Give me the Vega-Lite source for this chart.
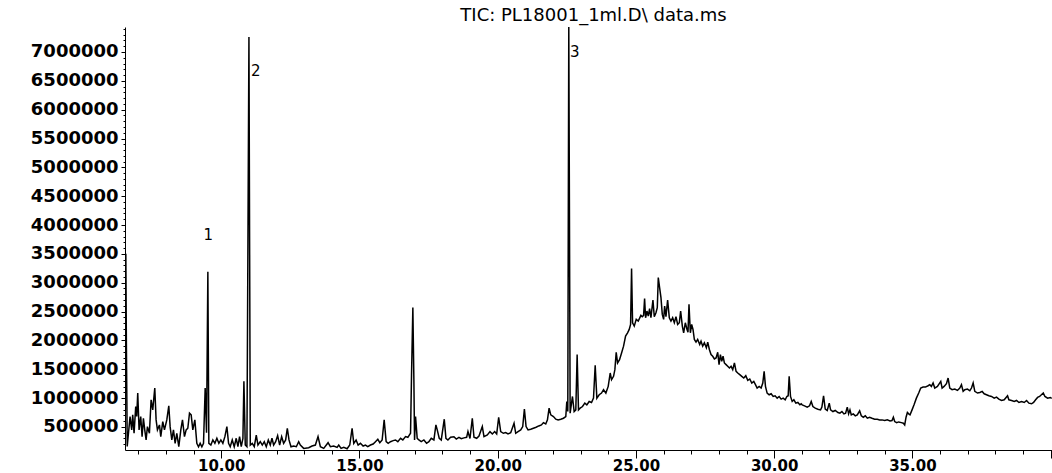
{
  "$schema": "https://vega.github.io/schema/vega-lite/v6.json",
  "autosize": {"type": "none"},
  "padding": {"left": 125, "top": 27, "right": 0, "bottom": 23},
  "width": 927,
  "height": 423,
  "background": "white",
  "title": {"text": "TIC: PL18001_1ml.D\\ data.ms", "font": "DejaVu Sans", "fontSize": 18, "fontWeight": "normal", "color": "black", "anchor": "middle", "frame": "group", "offset": 3, "baseline": "alphabetic", "dx": 5, "dy": 22},
  "config": {"view": {"stroke": null}, "axis": {"grid": false, "domainColor": "black", "tickColor": "black", "labelColor": "black", "labelFont": "DejaVu Sans", "labelFontWeight": "bold", "labelOverlap": false, "labelBound": false, "labelFlush": false, "title": null}},
  "datasets": {
    "tic": [
      {"time": 6.53, "abundance": 3480000}, {"time": 6.55, "abundance": 3500000}, {"time": 6.57, "abundance": 1950000}, {"time": 6.60, "abundance": 160000},
      {"time": 6.703, "abundance": 680000}, {"time": 6.763, "abundance": 448000}, {"time": 6.799, "abundance": 709000}, {"time": 6.848, "abundance": 390000},
      {"time": 6.908, "abundance": 854000}, {"time": 6.944, "abundance": 680000}, {"time": 6.981, "abundance": 1087000}, {"time": 7.029, "abundance": 448000},
      {"time": 7.089, "abundance": 680000}, {"time": 7.138, "abundance": 331000}, {"time": 7.186, "abundance": 651000}, {"time": 7.234, "abundance": 448000},
      {"time": 7.283, "abundance": 274000}, {"time": 7.331, "abundance": 505000}, {"time": 7.403, "abundance": 390000}, {"time": 7.464, "abundance": 970000},
      {"time": 7.524, "abundance": 796000}, {"time": 7.597, "abundance": 1174000}, {"time": 7.645, "abundance": 622000}, {"time": 7.693, "abundance": 448000},
      {"time": 7.766, "abundance": 535000}, {"time": 7.814, "abundance": 331000}, {"time": 7.886, "abundance": 592000}, {"time": 7.947, "abundance": 448000},
      {"time": 8.032, "abundance": 622000}, {"time": 8.104, "abundance": 866000}, {"time": 8.152, "abundance": 505000}, {"time": 8.213, "abundance": 274000},
      {"time": 8.273, "abundance": 448000}, {"time": 8.333, "abundance": 216000}, {"time": 8.394, "abundance": 390000}, {"time": 8.466, "abundance": 157000},
      {"time": 8.539, "abundance": 448000}, {"time": 8.599, "abundance": 622000}, {"time": 8.671, "abundance": 331000}, {"time": 8.732, "abundance": 448000},
      {"time": 8.792, "abundance": 477000}, {"time": 8.853, "abundance": 738000}, {"time": 8.913, "abundance": 709000}, {"time": 8.973, "abundance": 448000},
      {"time": 9.046, "abundance": 622000}, {"time": 9.118, "abundance": 216000}, {"time": 9.179, "abundance": 157000}, {"time": 9.239, "abundance": 216000},
      {"time": 9.300, "abundance": 157000}, {"time": 9.360, "abundance": 216000}, {"time": 9.420, "abundance": 1174000}, {"time": 9.469, "abundance": 400000},
      {"time": 9.517, "abundance": 3190000}, {"time": 9.553, "abundance": 216000}, {"time": 9.626, "abundance": 186000}, {"time": 9.698, "abundance": 274000},
      {"time": 9.771, "abundance": 216000}, {"time": 9.843, "abundance": 303000}, {"time": 9.915, "abundance": 216000}, {"time": 9.988, "abundance": 274000},
      {"time": 10.060, "abundance": 216000}, {"time": 10.133, "abundance": 331000}, {"time": 10.205, "abundance": 505000}, {"time": 10.266, "abundance": 216000},
      {"time": 10.326, "abundance": 157000}, {"time": 10.399, "abundance": 274000}, {"time": 10.471, "abundance": 157000}, {"time": 10.543, "abundance": 303000},
      {"time": 10.604, "abundance": 157000}, {"time": 10.664, "abundance": 331000}, {"time": 10.725, "abundance": 157000}, {"time": 10.785, "abundance": 300000},
      {"time": 10.821, "abundance": 1290000}, {"time": 10.870, "abundance": 186000}, {"time": 10.930, "abundance": 157000}, {"time": 11.003, "abundance": 7260000},
      {"time": 11.051, "abundance": 186000}, {"time": 11.123, "abundance": 216000}, {"time": 11.196, "abundance": 157000}, {"time": 11.268, "abundance": 360000},
      {"time": 11.329, "abundance": 186000}, {"time": 11.413, "abundance": 244000}, {"time": 11.486, "abundance": 186000}, {"time": 11.558, "abundance": 244000},
      {"time": 11.630, "abundance": 157000}, {"time": 11.703, "abundance": 274000}, {"time": 11.775, "abundance": 186000}, {"time": 11.836, "abundance": 303000},
      {"time": 11.896, "abundance": 186000}, {"time": 11.969, "abundance": 244000}, {"time": 12.041, "abundance": 350000}, {"time": 12.114, "abundance": 186000},
      {"time": 12.186, "abundance": 331000}, {"time": 12.258, "abundance": 216000}, {"time": 12.331, "abundance": 274000}, {"time": 12.391, "abundance": 477000},
      {"time": 12.452, "abundance": 274000}, {"time": 12.524, "abundance": 157000}, {"time": 12.621, "abundance": 170000}, {"time": 12.717, "abundance": 157000},
      {"time": 12.802, "abundance": 244000}, {"time": 12.862, "abundance": 186000},
      {"time": 12.983, "abundance": 128000}, {"time": 13.164, "abundance": 140000}, {"time": 13.285, "abundance": 169000}, {"time": 13.406, "abundance": 186000},
      {"time": 13.502, "abundance": 332000}, {"time": 13.587, "abundance": 157000}, {"time": 13.708, "abundance": 128000}, {"time": 13.865, "abundance": 227000},
      {"time": 13.949, "abundance": 157000}, {"time": 14.070, "abundance": 169000}, {"time": 14.191, "abundance": 146000}, {"time": 14.251, "abundance": 186000},
      {"time": 14.336, "abundance": 128000}, {"time": 14.432, "abundance": 146000}, {"time": 14.553, "abundance": 122000}, {"time": 14.650, "abundance": 186000},
      {"time": 14.734, "abundance": 477000}, {"time": 14.795, "abundance": 216000}, {"time": 14.879, "abundance": 274000}, {"time": 14.952, "abundance": 186000},
      {"time": 15.036, "abundance": 216000}, {"time": 15.133, "abundance": 169000}, {"time": 15.217, "abundance": 186000}, {"time": 15.302, "abundance": 157000},
      {"time": 15.399, "abundance": 186000}, {"time": 15.495, "abundance": 204000}, {"time": 15.580, "abundance": 244000}, {"time": 15.664, "abundance": 285000},
      {"time": 15.737, "abundance": 227000}, {"time": 15.821, "abundance": 274000}, {"time": 15.894, "abundance": 622000}, {"time": 15.966, "abundance": 244000},
      {"time": 16.039, "abundance": 216000}, {"time": 16.123, "abundance": 244000}, {"time": 16.220, "abundance": 262000}, {"time": 16.304, "abundance": 274000},
      {"time": 16.389, "abundance": 244000}, {"time": 16.486, "abundance": 303000}, {"time": 16.570, "abundance": 274000}, {"time": 16.667, "abundance": 332000},
      {"time": 16.751, "abundance": 320000}, {"time": 16.848, "abundance": 390000}, {"time": 16.884, "abundance": 1406000}, {"time": 16.932, "abundance": 2570000},
      {"time": 16.969, "abundance": 1319000}, {"time": 16.993, "abundance": 274000}, {"time": 17.029, "abundance": 680000}, {"time": 17.089, "abundance": 303000},
      {"time": 17.150, "abundance": 274000}, {"time": 17.234, "abundance": 244000}, {"time": 17.331, "abundance": 274000}, {"time": 17.428, "abundance": 216000},
      {"time": 17.512, "abundance": 244000}, {"time": 17.597, "abundance": 303000}, {"time": 17.693, "abundance": 274000}, {"time": 17.766, "abundance": 535000},
      {"time": 17.814, "abundance": 448000}, {"time": 17.886, "abundance": 303000}, {"time": 17.959, "abundance": 274000}, {"time": 18.068, "abundance": 634000},
      {"time": 18.128, "abundance": 303000}, {"time": 18.200, "abundance": 274000}, {"time": 18.297, "abundance": 320000}, {"time": 18.418, "abundance": 330000},
      {"time": 18.502, "abundance": 290000}, {"time": 18.599, "abundance": 320000}, {"time": 18.684, "abundance": 295000}, {"time": 18.780, "abundance": 310000},
      {"time": 18.877, "abundance": 320000}, {"time": 18.925, "abundance": 420000}, {"time": 18.998, "abundance": 300000},
      {"time": 19.082, "abundance": 651000}, {"time": 19.143, "abundance": 320000}, {"time": 19.239, "abundance": 303000}, {"time": 19.324, "abundance": 343000},
      {"time": 19.444, "abundance": 506000}, {"time": 19.505, "abundance": 332000}, {"time": 19.626, "abundance": 361000}, {"time": 19.722, "abundance": 419000},
      {"time": 19.807, "abundance": 378000}, {"time": 19.891, "abundance": 419000}, {"time": 19.964, "abundance": 378000}, {"time": 20.036, "abundance": 668000},
      {"time": 20.109, "abundance": 419000}, {"time": 20.205, "abundance": 390000}, {"time": 20.290, "abundance": 401000}, {"time": 20.374, "abundance": 378000},
      {"time": 20.471, "abundance": 401000}, {"time": 20.592, "abundance": 564000}, {"time": 20.652, "abundance": 390000}, {"time": 20.737, "abundance": 419000},
      {"time": 20.833, "abundance": 448000}, {"time": 20.906, "abundance": 506000}, {"time": 20.966, "abundance": 808000}, {"time": 21.027, "abundance": 506000},
      {"time": 21.099, "abundance": 448000}, {"time": 21.196, "abundance": 459000}, {"time": 21.292, "abundance": 477000}, {"time": 21.389, "abundance": 494000},
      {"time": 21.486, "abundance": 517000}, {"time": 21.582, "abundance": 535000}, {"time": 21.655, "abundance": 575000}, {"time": 21.739, "abundance": 552000},
      {"time": 21.800, "abundance": 622000}, {"time": 21.860, "abundance": 825000}, {"time": 21.920, "abundance": 709000}, {"time": 22.017, "abundance": 680000},
      {"time": 22.101, "abundance": 634000}, {"time": 22.186, "abundance": 622000}, {"time": 22.283, "abundance": 634000}, {"time": 22.379, "abundance": 651000},
      {"time": 22.464, "abundance": 680000}, {"time": 22.500, "abundance": 941000}, {"time": 22.536, "abundance": 767000}, {"time": 22.572, "abundance": 7450000},
      {"time": 22.621, "abundance": 738000}, {"time": 22.705, "abundance": 1028000}, {"time": 22.766, "abundance": 767000}, {"time": 22.826, "abundance": 796000},
      {"time": 22.874, "abundance": 1754000}, {"time": 22.923, "abundance": 796000}, {"time": 22.983, "abundance": 825000}, {"time": 23.068, "abundance": 854000},
      {"time": 23.152, "abundance": 912000}, {"time": 23.225, "abundance": 883000}, {"time": 23.309, "abundance": 941000}, {"time": 23.394, "abundance": 924000},
      {"time": 23.466, "abundance": 999000}, {"time": 23.527, "abundance": 1569000}, {"time": 23.587, "abundance": 999000}, {"time": 23.672, "abundance": 1058000},
      {"time": 23.756, "abundance": 1087000}, {"time": 23.829, "abundance": 1145000}, {"time": 23.913, "abundance": 1087000}, {"time": 23.998, "abundance": 1203000},
      {"time": 24.070, "abundance": 1435000}, {"time": 24.118, "abundance": 1319000}, {"time": 24.191, "abundance": 1377000}, {"time": 24.239, "abundance": 1493000},
      {"time": 24.287, "abundance": 1795000}, {"time": 24.336, "abundance": 1609000}, {"time": 24.408, "abundance": 1667000}, {"time": 24.481, "abundance": 1783000},
      {"time": 24.553, "abundance": 1900000}, {"time": 24.626, "abundance": 2074000}, {"time": 24.698, "abundance": 2132000}, {"time": 24.758, "abundance": 2190000},
      {"time": 24.807, "abundance": 2277000}, {"time": 24.843, "abundance": 3247000}, {"time": 24.879, "abundance": 2306000}, {"time": 24.940, "abundance": 2248000},
      {"time": 25.012, "abundance": 2364000}, {"time": 25.085, "abundance": 2335000}, {"time": 25.181, "abundance": 2434000},
      {"time": 25.229, "abundance": 2411000}, {"time": 25.278, "abundance": 2434000}, {"time": 25.314, "abundance": 2724000}, {"time": 25.350, "abundance": 2393000},
      {"time": 25.399, "abundance": 2509000}, {"time": 25.447, "abundance": 2422000}, {"time": 25.495, "abundance": 2550000}, {"time": 25.543, "abundance": 2393000},
      {"time": 25.616, "abundance": 2701000}, {"time": 25.664, "abundance": 2411000}, {"time": 25.725, "abundance": 2480000}, {"time": 25.773, "abundance": 2567000},
      {"time": 25.809, "abundance": 3090000}, {"time": 25.857, "abundance": 2916000}, {"time": 25.906, "abundance": 2742000}, {"time": 25.954, "abundance": 2451000},
      {"time": 26.002, "abundance": 2364000}, {"time": 26.039, "abundance": 2596000}, {"time": 26.087, "abundance": 2411000}, {"time": 26.147, "abundance": 2701000},
      {"time": 26.208, "abundance": 2393000}, {"time": 26.268, "abundance": 2335000}, {"time": 26.329, "abundance": 2393000}, {"time": 26.389, "abundance": 2306000},
      {"time": 26.449, "abundance": 2411000}, {"time": 26.510, "abundance": 2277000}, {"time": 26.570, "abundance": 2306000}, {"time": 26.618, "abundance": 2509000},
      {"time": 26.679, "abundance": 2248000}, {"time": 26.727, "abundance": 2132000}, {"time": 26.787, "abundance": 2306000}, {"time": 26.848, "abundance": 2190000},
      {"time": 26.884, "abundance": 2143000}, {"time": 26.920, "abundance": 2625000}, {"time": 26.969, "abundance": 2132000}, {"time": 27.017, "abundance": 2277000},
      {"time": 27.065, "abundance": 2190000}, {"time": 27.114, "abundance": 2016000}, {"time": 27.174, "abundance": 1969000}, {"time": 27.234, "abundance": 2016000},
      {"time": 27.307, "abundance": 1929000}, {"time": 27.355, "abundance": 1987000}, {"time": 27.415, "abundance": 1900000}, {"time": 27.476, "abundance": 1958000},
      {"time": 27.548, "abundance": 1871000}, {"time": 27.597, "abundance": 1969000}, {"time": 27.657, "abundance": 1842000}, {"time": 27.717, "abundance": 1754000},
      {"time": 27.778, "abundance": 1725000}, {"time": 27.838, "abundance": 1679000}, {"time": 27.899, "abundance": 1696000}, {"time": 27.959, "abundance": 1795000},
      {"time": 28.007, "abundance": 1580000}, {"time": 28.056, "abundance": 1754000}, {"time": 28.104, "abundance": 1638000}, {"time": 28.152, "abundance": 1725000},
      {"time": 28.200, "abundance": 1609000}, {"time": 28.261, "abundance": 1580000}, {"time": 28.321, "abundance": 1551000}, {"time": 28.382, "abundance": 1522000},
      {"time": 28.442, "abundance": 1551000}, {"time": 28.502, "abundance": 1493000}, {"time": 28.563, "abundance": 1609000}, {"time": 28.623, "abundance": 1464000},
      {"time": 28.684, "abundance": 1435000}, {"time": 28.756, "abundance": 1406000}, {"time": 28.829, "abundance": 1377000}, {"time": 28.901, "abundance": 1348000},
      {"time": 28.974, "abundance": 1389000}, {"time": 29.046, "abundance": 1307000}, {"time": 29.118, "abundance": 1331000}, {"time": 29.191, "abundance": 1261000},
      {"time": 29.263, "abundance": 1290000}, {"time": 29.324, "abundance": 1232000}, {"time": 29.384, "abundance": 1174000}, {"time": 29.457, "abundance": 1203000},
      {"time": 29.529, "abundance": 1174000}, {"time": 29.589, "abundance": 1261000}, {"time": 29.638, "abundance": 1464000}, {"time": 29.686, "abundance": 1203000},
      {"time": 29.746, "abundance": 1087000}, {"time": 29.819, "abundance": 1058000}, {"time": 29.891, "abundance": 1075000}, {"time": 29.964, "abundance": 1028000},
      {"time": 30.036, "abundance": 1040000}, {"time": 30.109, "abundance": 999000}, {"time": 30.181, "abundance": 1028000}, {"time": 30.254, "abundance": 982000},
      {"time": 30.326, "abundance": 999000}, {"time": 30.399, "abundance": 970000}, {"time": 30.459, "abundance": 1028000}, {"time": 30.507, "abundance": 1040000},
      {"time": 30.543, "abundance": 1377000}, {"time": 30.592, "abundance": 1028000}, {"time": 30.652, "abundance": 941000}, {"time": 30.713, "abundance": 970000},
      {"time": 30.785, "abundance": 912000}, {"time": 30.857, "abundance": 924000}, {"time": 30.930, "abundance": 883000}, {"time": 30.978, "abundance": 901000},
      {"time": 31.014, "abundance": 883000}, {"time": 31.099, "abundance": 866000}, {"time": 31.196, "abundance": 843000}, {"time": 31.280, "abundance": 866000},
      {"time": 31.341, "abundance": 941000}, {"time": 31.401, "abundance": 854000}, {"time": 31.486, "abundance": 825000}, {"time": 31.582, "abundance": 808000},
      {"time": 31.679, "abundance": 796000}, {"time": 31.727, "abundance": 843000}, {"time": 31.787, "abundance": 1040000}, {"time": 31.848, "abundance": 808000},
      {"time": 31.920, "abundance": 785000}, {"time": 31.993, "abundance": 912000}, {"time": 32.041, "abundance": 796000}, {"time": 32.126, "abundance": 767000},
      {"time": 32.210, "abundance": 785000}, {"time": 32.307, "abundance": 750000}, {"time": 32.379, "abundance": 738000}, {"time": 32.452, "abundance": 767000},
      {"time": 32.524, "abundance": 726000}, {"time": 32.585, "abundance": 738000}, {"time": 32.645, "abundance": 843000}, {"time": 32.693, "abundance": 726000},
      {"time": 32.742, "abundance": 796000}, {"time": 32.790, "abundance": 709000}, {"time": 32.862, "abundance": 726000}, {"time": 32.935, "abundance": 692000},
      {"time": 33.007, "abundance": 709000}, {"time": 33.092, "abundance": 779000}, {"time": 33.152, "abundance": 692000}, {"time": 33.225, "abundance": 668000},
      {"time": 33.297, "abundance": 692000}, {"time": 33.370, "abundance": 651000}, {"time": 33.454, "abundance": 668000}, {"time": 33.539, "abundance": 651000},
      {"time": 33.635, "abundance": 634000}, {"time": 33.732, "abundance": 634000}, {"time": 33.816, "abundance": 622000}, {"time": 33.901, "abundance": 622000},
      {"time": 33.998, "abundance": 610000}, {"time": 34.094, "abundance": 622000}, {"time": 34.191, "abundance": 605000}, {"time": 34.263, "abundance": 610000},
      {"time": 34.312, "abundance": 668000}, {"time": 34.360, "abundance": 593000}, {"time": 34.432, "abundance": 575000}, {"time": 34.505, "abundance": 587000},
      {"time": 34.601, "abundance": 575000}, {"time": 34.674, "abundance": 564000}, {"time": 34.722, "abundance": 535000}, {"time": 34.771, "abundance": 668000},
      {"time": 34.819, "abundance": 750000}, {"time": 34.867, "abundance": 726000}, {"time": 34.915, "abundance": 709000}, {"time": 34.988, "abundance": 796000},
      {"time": 35.060, "abundance": 883000}, {"time": 35.145, "abundance": 999000}, {"time": 35.229, "abundance": 1087000}, {"time": 35.302, "abundance": 1174000},
      {"time": 35.386, "abundance": 1191000}, {"time": 35.471, "abundance": 1191000}, {"time": 35.568, "abundance": 1214000}, {"time": 35.628, "abundance": 1232000},
      {"time": 35.688, "abundance": 1203000}, {"time": 35.749, "abundance": 1261000}, {"time": 35.809, "abundance": 1174000}, {"time": 35.906, "abundance": 1203000},
      {"time": 36.027, "abundance": 1290000}, {"time": 36.075, "abundance": 1174000}, {"time": 36.147, "abundance": 1203000}, {"time": 36.232, "abundance": 1249000},
      {"time": 36.292, "abundance": 1348000}, {"time": 36.353, "abundance": 1174000}, {"time": 36.437, "abundance": 1145000}, {"time": 36.534, "abundance": 1156000},
      {"time": 36.630, "abundance": 1133000}, {"time": 36.715, "abundance": 1174000}, {"time": 36.775, "abundance": 1232000}, {"time": 36.836, "abundance": 1116000},
      {"time": 36.896, "abundance": 1145000}, {"time": 36.993, "abundance": 1156000}, {"time": 37.077, "abundance": 1127000}, {"time": 37.138, "abundance": 1174000},
      {"time": 37.198, "abundance": 1261000}, {"time": 37.258, "abundance": 1116000}, {"time": 37.355, "abundance": 1087000}, {"time": 37.440, "abundance": 1098000},
      {"time": 37.524, "abundance": 1116000}, {"time": 37.597, "abundance": 1075000}, {"time": 37.681, "abundance": 1058000}, {"time": 37.766, "abundance": 1040000},
      {"time": 37.862, "abundance": 1028000}, {"time": 37.959, "abundance": 999000}, {"time": 38.043, "abundance": 1017000}, {"time": 38.128, "abundance": 982000},
      {"time": 38.225, "abundance": 959000}, {"time": 38.321, "abundance": 970000}, {"time": 38.442, "abundance": 1040000}, {"time": 38.490, "abundance": 970000},
      {"time": 38.587, "abundance": 959000}, {"time": 38.684, "abundance": 941000}, {"time": 38.768, "abundance": 959000}, {"time": 38.853, "abundance": 924000},
      {"time": 38.949, "abundance": 941000}, {"time": 39.046, "abundance": 924000}, {"time": 39.130, "abundance": 959000}, {"time": 39.215, "abundance": 912000},
      {"time": 39.312, "abundance": 901000}, {"time": 39.384, "abundance": 924000}, {"time": 39.457, "abundance": 970000}, {"time": 39.529, "abundance": 1011000},
      {"time": 39.601, "abundance": 1028000}, {"time": 39.734, "abundance": 1087000}, {"time": 39.795, "abundance": 1028000}, {"time": 39.891, "abundance": 999000},
      {"time": 39.988, "abundance": 1011000}, {"time": 40.040, "abundance": 994000}
    ],
    "peaks": [
      {"peak": "1", "time": 9.529, "abundance": 3830000},
      {"peak": "2", "time": 11.08, "abundance": 6676000},
      {"peak": "3", "time": 22.62, "abundance": 7005000}
    ]
  },
  "encoding": {
    "x": {"field": "time", "type": "quantitative", "scale": {"domain": [6.52, 40.05], "zero": false, "nice": false},
          "axis": {"values": [7,8,9,10,11,12,13,14,15,16,17,18,19,20,21,22,23,24,25,26,27,28,29,30,31,32,33,34,35,36,37,38,39,40],
                   "labelExpr": "datum.value % 5 === 0 && datum.value <= 35 ? format(datum.value, '.2f') : ''",
                   "tickSize": {"condition": {"test": "datum.value % 5 === 0", "value": 8}, "value": 4},
                   "labelOverlap": false, "labelFontSize": 15, "labelPadding": 0}},
    "y": {"field": "abundance", "type": "quantitative", "scale": {"domain": [100000, 7433000], "zero": false, "nice": false},
          "axis": {"values": [200000,300000,400000,500000,600000,700000,800000,900000,1000000,1100000,1200000,1300000,1400000,1500000,1600000,1700000,1800000,1900000,2000000,2100000,2200000,2300000,2400000,2500000,2600000,2700000,2800000,2900000,3000000,3100000,3200000,3300000,3400000,3500000,3600000,3700000,3800000,3900000,4000000,4100000,4200000,4300000,4400000,4500000,4600000,4700000,4800000,4900000,5000000,5100000,5200000,5300000,5400000,5500000,5600000,5700000,5800000,5900000,6000000,6100000,6200000,6300000,6400000,6500000,6600000,6700000,6800000,6900000,7000000,7100000,7200000,7300000,7400000],
                   "labelExpr": "datum.value % 500000 === 0 ? format(datum.value, 'd') : ''",
                   "tickSize": {"condition": {"test": "datum.value % 500000 === 0", "value": 4}, "value": 2},
                   "labelOverlap": false, "labelFontSize": 18, "labelPadding": 3}}
  },
  "layer": [
    {
      "data": {"name": "tic"},
      "mark": {"type": "line", "color": "black", "strokeWidth": 1.5, "clip": true}
    },
    {
      "data": {"name": "peaks"},
      "transform": [{"filter": "datum.peak === '1'"}],
      "mark": {"type": "text", "font": "DejaVu Sans", "fontSize": 15, "color": "black", "align": "center", "baseline": "middle"},
      "encoding": {"text": {"field": "peak", "type": "nominal"}}
    },
    {
      "data": {"name": "peaks"},
      "transform": [{"filter": "datum.peak !== '1'"}],
      "mark": {"type": "text", "font": "DejaVu Sans", "fontSize": 15, "color": "black", "align": "left", "baseline": "middle"},
      "encoding": {"text": {"field": "peak", "type": "nominal"}}
    }
  ]
}
